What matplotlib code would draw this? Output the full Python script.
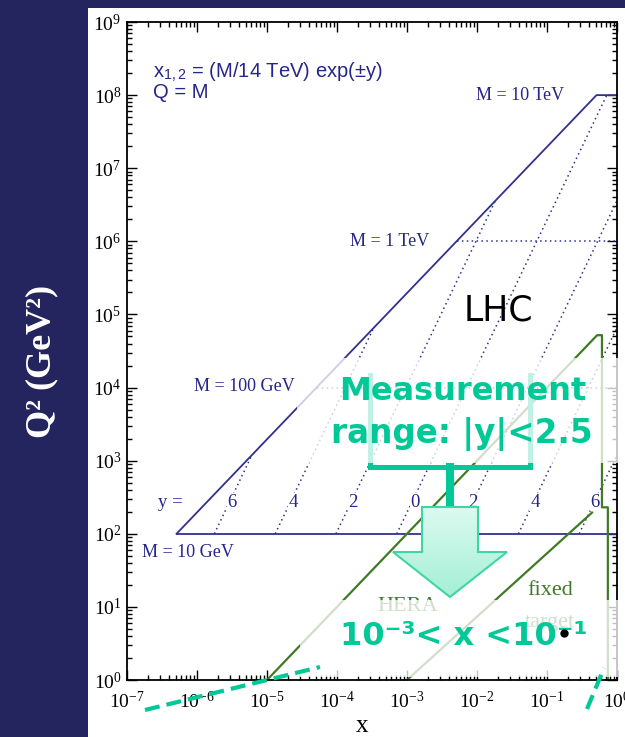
import numpy as np
import matplotlib.pyplot as plt
from matplotlib.patches import Rectangle, Polygon
from matplotlib.ticker import LogLocator, LogFormatterMathtext, NullFormatter

plt.rcParams['font.family'] = ['Liberation Serif', 'DejaVu Serif']
plt.rcParams['mathtext.fontset'] = 'stix'

W, H = 625, 737

# ---- values (x, Q^2) ----
# LHC kinematic edge, solid blue
lhc_edge_x = [5.1e-7, 0.51, 1.0]
lhc_edge_q2 = [1e2, 1e8, 1e8]
lhc_floor_x = [5.1e-7, 1.0]
lhc_floor_q2 = [1e2, 1e2]

# dotted horizontals for M = 100 GeV and M = 1 TeV
mass_q2 = [1e4, 1e6]
mass_x_start = [5.1e-5, 5.1e-3]

# dotted lines of constant rapidity, left to right
rap_labels = ['6', '4', '2', '0', '2', '4', '6']
rap_x_lo = [1.77e-6, 1.31e-5, 9.66e-5, 7.14e-4, 5.28e-3, 3.9e-2, 0.288]  # at Q^2 = 100
rap_x_hi = [6.1e-6, 3.35e-4, 1.83e-2, 0.714, 1.0, 1.0, 1.0]
rap_q2_hi = [1.2e3, 6.6e4, 3.6e6, 1e8, 3.6e6, 6.6e4, 1.2e3]
rap_label_x = [3.2e-6, 2.35e-5, 1.7e-4, 1.3e-3, 8.8e-3, 6.7e-2, 0.485]
rap_label_q2 = 272

# HERA and fixed target, green
hera_x = [1e-5, 0.52, 0.61, 0.61, 0.74, 0.74]
hera_q2 = [1, 5.2e4, 5.2e4, 230, 230, 1]
fixed_x = [1e-3, 0.44]
fixed_q2 = [1, 195]

mass_labels = ['M = 10 TeV', 'M = 1 TeV', 'M = 100 GeV', 'M = 10 GeV']
mass_label_x = [0.041, 5.7e-4, 4.7e-6, 7.4e-7]
mass_label_q2 = [1e8, 1e6, 1.05e4, 56]

blue = '#30308e'
blue_txt = '#25258a'
green = '#3f7a25'
teal = '#00c896'

fig = plt.figure(figsize=(W / 100, H / 100), dpi=100, facecolor='#24245f')
# white slide panel behind the plot
fig.add_artist(Rectangle((88 / W, 0), 1 - 88 / W, 1 - 8 / H, transform=fig.transFigure,
                         facecolor='white', edgecolor='none', zorder=-1))

ax = fig.add_axes([127 / W, 1 - 680 / H, 490 / W, 658 / H])
ax.set_xscale('log')
ax.set_yscale('log')
ax.set_xlim(1e-7, 1)
ax.set_ylim(1, 1e9)

for a in (ax.xaxis, ax.yaxis):
    a.set_major_locator(LogLocator(base=10, numticks=20))
    a.set_minor_locator(LogLocator(base=10, subs=np.arange(2, 10), numticks=20))
    a.set_major_formatter(LogFormatterMathtext())
    a.set_minor_formatter(NullFormatter())
ax.tick_params(which='both', direction='in', top=True, right=True, width=1, colors='black')
ax.tick_params(which='major', length=7, labelsize=14)
ax.tick_params(which='minor', length=3.5)
ax.tick_params(axis='x', pad=8)
ax.tick_params(axis='y', pad=4)
for s in ax.spines.values():
    s.set_linewidth(1.3)

# LHC region
ax.plot(lhc_edge_x, lhc_edge_q2, color=blue, lw=1.3)
ax.plot(lhc_floor_x, lhc_floor_q2, color=blue, lw=1.3)
for q2, x0 in zip(mass_q2, mass_x_start):
    ax.plot([x0, 1], [q2, q2], color=blue, lw=1.1, ls=(0, (1, 2.2)))
for xl, xh, qh in zip(rap_x_lo, rap_x_hi, rap_q2_hi):
    ax.plot([xl, xh], [100, qh], color=blue, lw=1.1, ls=(0, (1, 2.2)))

for lab, lx in zip(rap_labels, rap_label_x):
    ax.text(lx, rap_label_q2, lab, color=blue_txt, fontsize=13.5, ha='center', va='center',
            bbox=dict(facecolor='white', edgecolor='none', pad=0.5))
ax.text(4.1e-7, rap_label_q2, 'y =', color=blue_txt, fontsize=13.5, ha='center', va='center')

for lab, lx, lq in zip(mass_labels, mass_label_x, mass_label_q2):
    ax.text(lx, lq, lab, color=blue_txt, fontsize=13, ha='center', va='center')

ax.text(2.35e-7, 2.07e8, r'x$_{\mathdefault{1,2}}$ = (M/14 TeV) exp(±y)', color=blue_txt,
        fontsize=14.5, family='Liberation Sans', ha='left', va='center')
ax.text(2.35e-7, 1.07e8, 'Q = M', color=blue_txt, fontsize=14.5, family='Liberation Sans',
        ha='left', va='center')
ax.text(0.02, 1.12e5, 'LHC', color='black', fontsize=25, family='DejaVu Sans',
        ha='center', va='center')

# HERA / fixed target
ax.plot(hera_x, hera_q2, color=green, lw=1.6)
ax.plot(fixed_x, fixed_q2, color=green, lw=1.6)
ax.text(1.03e-3, 10, 'HERA', color=green, fontsize=16, ha='center', va='center')
ax.text(0.11, 17, 'fixed', color=green, fontsize=16, ha='center', va='center')
ax.text(0.11, 6.2, 'target', color=green, fontsize=16, ha='center', va='center')

fig.text(42 / W, 1 - 361 / H, 'Q² (GeV²)', rotation=90, color='white', fontweight='bold',
         fontsize=26, ha='center', va='center')
fig.text(362 / W, 1 - 726 / H, 'x', fontsize=18, ha='center', va='center')

# ---- slide annotations, in pixel coordinates ----
ov = fig.add_axes([0, 0, 1, 1], zorder=5)
ov.axis('off')

# bracket under the measurement text
ov.plot([370, 370, 530, 530], [375, 467, 467, 375], color=teal, lw=3.6,
        solid_joinstyle='miter', zorder=1)
ov.plot([450, 450], [467, 508], color=teal, lw=5.8, zorder=1)

# translucent text boxes
ov.add_patch(Rectangle((297, 358), 328, 105, facecolor='white', alpha=0.76,
                       edgecolor='none', zorder=2))
ov.add_patch(Rectangle((300, 600), 318, 77, facecolor='white', alpha=0.76,
                       edgecolor='none', zorder=2))

ov.text(463, 400, 'Measurement', color=teal, fontsize=23, fontweight='bold',
        family='DejaVu Sans', ha='center', va='baseline', zorder=3)
ov.text(462, 443, 'range: |y|<2.5', color=teal, fontsize=23.5, fontweight='bold',
        family='DejaVu Sans', ha='center', va='baseline', zorder=3)
ov.text(464, 645, '10⁻³< x <10⁻¹', color=teal, fontsize=23, fontweight='bold',
        family='DejaVu Sans', ha='center', va='baseline', zorder=3)

# block arrow with soft gradient
arrow_pts = [(422, 507), (478, 507), (478, 552), (507, 552), (450, 597), (393, 552), (422, 552)]
arrow = Polygon(arrow_pts, closed=True, facecolor='none', edgecolor='#3fd6a6', lw=1.5, zorder=4)
ov.add_patch(arrow)
grad = np.linspace(0, 1, 64)[:, None]
c0 = np.array([0.86, 0.98, 0.94])
c1 = np.array([0.64, 0.94, 0.84])
img = c0 + (c1 - c0) * grad[:, :, None] * np.ones((1, 2, 1))
im = ov.imshow(img, extent=[393, 507, 597, 507], aspect='auto', zorder=3.5)
im.set_clip_path(arrow)

# dashed guide lines and dot
ov.plot([145, 320], [710, 667], color=teal, lw=3, ls=(0, (3.6, 1.7)), zorder=4)
ov.plot([587, 604], [709, 668], color=teal, lw=3, ls=(0, (3.6, 1.7)), zorder=4)
ov.plot([564], [633], 'o', color='black', ms=5, zorder=4)

ov.set_xlim(0, W)
ov.set_ylim(H, 0)

fig.savefig('out.png', dpi=100, facecolor=fig.get_facecolor())
